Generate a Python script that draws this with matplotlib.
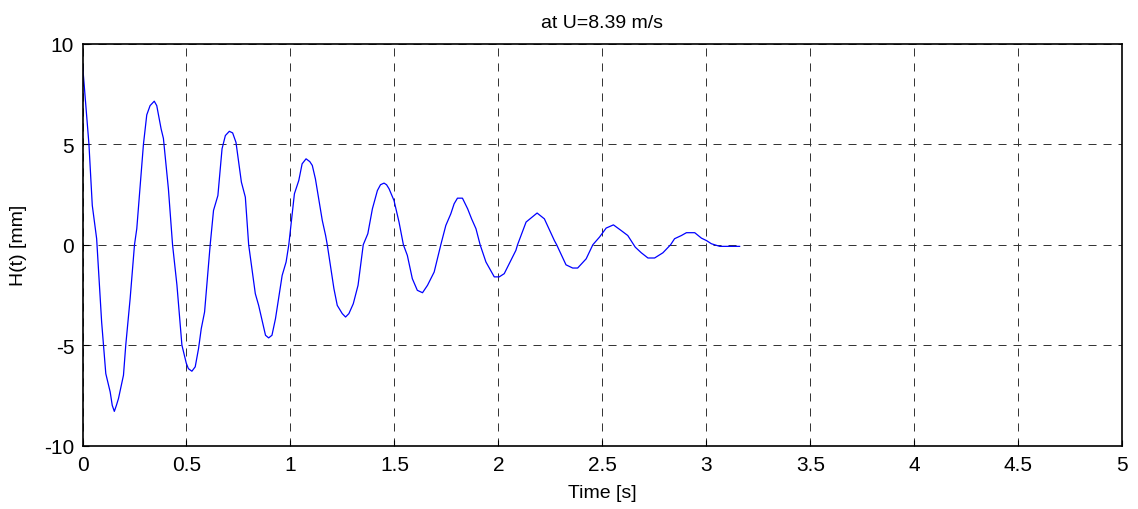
import matplotlib
matplotlib.use("Agg")
import matplotlib.pyplot as plt

time_s = [0.000, 0.031, 0.047, 0.068, 0.092, 0.112, 0.133, 0.143, 0.153, 0.163,
          0.173, 0.197, 0.208, 0.229, 0.250, 0.261, 0.293, 0.309, 0.325, 0.345,
          0.357, 0.378, 0.389, 0.413, 0.433, 0.454, 0.478, 0.499, 0.509, 0.526,
          0.542, 0.558, 0.571, 0.587, 0.614, 0.630, 0.651, 0.671, 0.687, 0.706,
          0.722, 0.738, 0.764, 0.783, 0.799, 0.831, 0.847, 0.880, 0.895, 0.911,
          0.928, 0.960, 0.979, 0.992, 1.019, 1.040, 1.056, 1.075, 1.093, 1.105,
          1.120, 1.153, 1.169, 1.177, 1.209, 1.225, 1.249, 1.265, 1.281, 1.302,
          1.325, 1.350, 1.372, 1.394, 1.418, 1.433, 1.450, 1.462, 1.474, 1.498,
          1.522, 1.543, 1.562, 1.586, 1.610, 1.635, 1.659, 1.691, 1.723, 1.747,
          1.771, 1.787, 1.803, 1.827, 1.852, 1.871, 1.892, 1.912, 1.940, 1.980,
          2.004, 2.028, 2.060, 2.084, 2.092, 2.133, 2.186, 2.221, 2.269, 2.280,
          2.325, 2.357, 2.381, 2.422, 2.454, 2.486, 2.518, 2.553, 2.590, 2.622,
          2.658, 2.687, 2.719, 2.751, 2.791, 2.828, 2.847, 2.880, 2.904, 2.944,
          2.976, 3.000, 3.024, 3.064, 3.160]
height_mm = [9.00, 5.00, 1.96, 0.30, -3.85, -6.42, -7.33, -8.00, -8.30, -8.00,
             -7.66, -6.50, -5.00, -2.69, 0.00, 0.80, 5.00, 6.47, 6.93, 7.15,
             6.93, 5.77, 5.30, 2.79, 0.00, -2.00, -5.00, -5.90, -6.17, -6.30,
             -6.08, -5.17, -4.18, -3.35, 0.00, 1.71, 2.45, 4.78, 5.44, 5.65,
             5.57, 5.10, 3.12, 2.37, 0.00, -2.44, -3.02, -4.51, -4.64, -4.51,
             -3.68, -1.53, -0.86, 0.00, 2.54, 3.20, 4.03, 4.28, 4.14, 3.95,
             3.28, 1.21, 0.46, 0.00, -2.19, -3.02, -3.43, -3.60, -3.43, -2.94,
             -2.02, 0.00, 0.55, 1.79, 2.70, 2.99, 3.07, 2.99, 2.79, 2.20,
             1.13, 0.00, -0.53, -1.69, -2.27, -2.39, -2.02, -1.36, 0.00, 0.96,
             1.54, 2.04, 2.32, 2.32, 1.79, 1.29, 0.80, 0.00, -0.86, -1.60,
             -1.60, -1.44, -0.78, -0.28, 0.00, 1.13, 1.58, 1.29, 0.21, 0.00,
             -1.00, -1.16, -1.16, -0.70, 0.00, 0.38, 0.83, 0.99, 0.71, 0.46,
             -0.12, -0.40, -0.66, -0.66, -0.40, 0.00, 0.30, 0.46, 0.60, 0.60,
             0.33, 0.21, 0.05, -0.08, -0.08]

x_ticks = [0, 0.5, 1, 1.5, 2, 2.5, 3, 3.5, 4, 4.5, 5]
x_tick_labels = ["0", "0.5", "1", "1.5", "2", "2.5", "3", "3.5", "4", "4.5", "5"]
y_ticks = [-10, -5, 0, 5, 10]
y_tick_labels = ["-10", "-5", "0", "5", "10"]

plt.rcParams['font.family'] = ['Liberation Sans', 'DejaVu Sans']
plt.rcParams['lines.scale_dashes'] = False

fig = plt.figure(figsize=(11.38, 5.10), dpi=100)
ax = fig.add_axes([0.0725, 0.1245, 0.9137, 0.7873])

ax.plot(time_s, height_mm, color='#0000ff', linewidth=0.9)

ax.set_xlim(0, 5)
ax.set_ylim(-10, 10)
ax.set_xticks(x_ticks)
ax.set_xticklabels(x_tick_labels)
ax.set_yticks(y_ticks)
ax.set_yticklabels(y_tick_labels)

ax.grid(True, color='#303030', linestyle=(0, (5.8, 5.0)), linewidth=0.7)
ax.tick_params(direction='in', length=4, width=0.8, labelsize=15,
               top=False, right=False)
ax.tick_params(axis='x', pad=7)
ax.tick_params(axis='y', pad=6)
for s in ax.spines.values():
    s.set_linewidth(1.2)
    s.set_color('black')

ax.set_xlabel('Time [s]', fontsize=14, labelpad=7)
ax.set_ylabel('H(t) [mm]', fontsize=14, labelpad=12)
ax.set_title('at U=8.39 m/s', fontsize=14, pad=12)

fig.savefig('out.png', dpi=100)
